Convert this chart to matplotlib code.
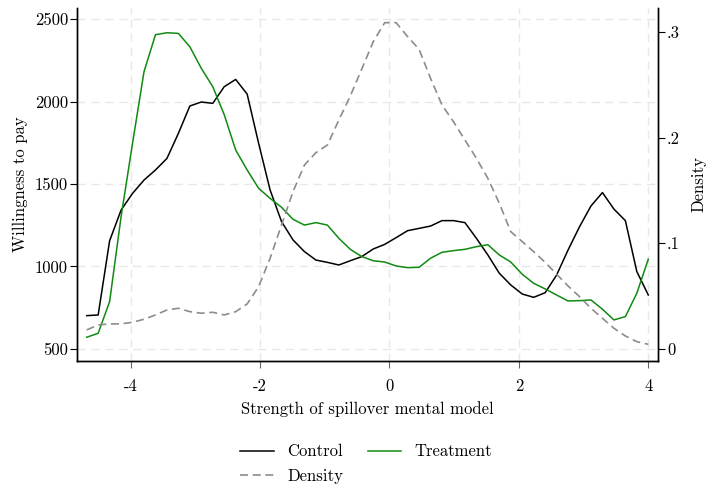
"""
    Willingness to pay by strength of spillover mental model, with density.
"""

import numpy as np
import matplotlib
matplotlib.use("Agg")
import matplotlib.pyplot as plt

# Evaluation grid (50 points)
x_min, x_max, n_points = -4.68, 4.0, 50
strength = np.linspace(x_min, x_max, n_points)

# Willingness to pay, control group
wtp_control = [702, 706, 1156, 1342, 1443, 1524, 1585, 1655, 1807, 1973,
               1997, 1989, 2090, 2134, 2045, 1747, 1464, 1272, 1161, 1090,
               1039, 1025, 1009, 1035, 1060, 1106, 1134, 1175, 1217, 1231,
               1245, 1278, 1278, 1266, 1171, 1070, 959, 888, 833, 813,
               841, 948, 1100, 1241, 1367, 1448, 1348, 1278, 969, 827]

# Willingness to pay, treatment group
wtp_treatment = [571, 595, 787, 1302, 1747, 2181, 2405, 2417, 2413, 2332,
                 2201, 2090, 1920, 1706, 1585, 1474, 1413, 1359, 1286, 1251,
                 1266, 1251, 1171, 1104, 1060, 1035, 1027, 1003, 993, 995,
                 1050, 1086, 1096, 1104, 1120, 1132, 1070, 1027, 953, 898,
                 864, 827, 791, 793, 797, 741, 676, 696, 838, 1044]

# Kernel density of the mental model score
density = [0.018, 0.0227, 0.0237, 0.0237, 0.0253, 0.0281, 0.0322, 0.0369, 0.0385, 0.0353,
           0.0338, 0.0347, 0.0322, 0.0353, 0.0426, 0.059, 0.0858, 0.1173, 0.1489, 0.1741,
           0.1858, 0.193, 0.2167, 0.2394, 0.265, 0.2908, 0.3088, 0.3088, 0.2956, 0.2836,
           0.2562, 0.2309, 0.2151, 0.1978, 0.1805, 0.1615, 0.1379, 0.111, 0.1016, 0.0921,
           0.082, 0.0707, 0.0596, 0.0495, 0.0385, 0.029, 0.0196, 0.0123, 0.0069, 0.0044]

x_ticks = [-4, -2, 0, 2, 4]
x_tick_labels = ["-4", "-2", "0", "2", "4"]
wtp_ticks = [500, 1000, 1500, 2000, 2500]
dens_ticks = [0, 0.1, 0.2, 0.3]
dens_tick_labels = ["0", ".1", ".2", ".3"]

plt.rcParams["font.family"] = ["cmr10", "DejaVu Serif"]
plt.rcParams["axes.formatter.use_mathtext"] = True
plt.rcParams["font.size"] = 12

fig = plt.figure(figsize=(7.07, 4.86), dpi=100)
ax = fig.add_axes([77 / 707, 1 - 361 / 486, (658 - 77) / 707, (361 - 8) / 486])
ax2 = ax.twinx()

# Grid
ax.grid(True, color="#e8e8e8", linestyle=(0, (6, 4)), linewidth=1.0)
ax.set_axisbelow(True)

line_control, = ax.plot(strength, wtp_control, color="black", linewidth=1.1, label="Control")
line_treat, = ax.plot(strength, wtp_treatment, color="#108a10", linewidth=1.1, label="Treatment")
line_dens, = ax2.plot(strength, density, color="#8c8c8c", linewidth=1.2,
                      linestyle=(0, (4.8, 2.8)), label="Density")

ax.set_xlim(-4.83, 4.15)
ax.set_ylim(427, 2567)
ax2.set_ylim(-0.0114, 0.3227)

ax.set_xticks(x_ticks)
ax.set_xticklabels(x_tick_labels)
ax.set_yticks(wtp_ticks)
ax.set_yticklabels([str(v) for v in wtp_ticks])
ax2.set_yticks(dens_ticks)
ax2.set_yticklabels(dens_tick_labels)

for a in (ax, ax2):
    a.spines["top"].set_visible(False)
    for s in a.spines.values():
        s.set_linewidth(1.0)
    a.tick_params(axis="y", length=5, width=0.8, labelsize=12, pad=1.5)
ax.tick_params(axis="x", length=5, width=0.8, labelsize=12, pad=8, color="#666666")

ax.set_xlabel("Strength of spillover mental model", fontsize=12, labelpad=5)
ax.set_ylabel("Willingness to pay", fontsize=12, labelpad=5)
ax2.set_ylabel("Density", fontsize=12, labelpad=8)

fig.legend(handles=[line_control, line_dens, line_treat], ncol=2, frameon=False,
           loc="center", bbox_to_anchor=(0.518, 0.0453), fontsize=12,
           handlelength=2.0, handletextpad=0.8, columnspacing=1.5,
           labelspacing=0.55)

fig.savefig("out.png", dpi=100)
